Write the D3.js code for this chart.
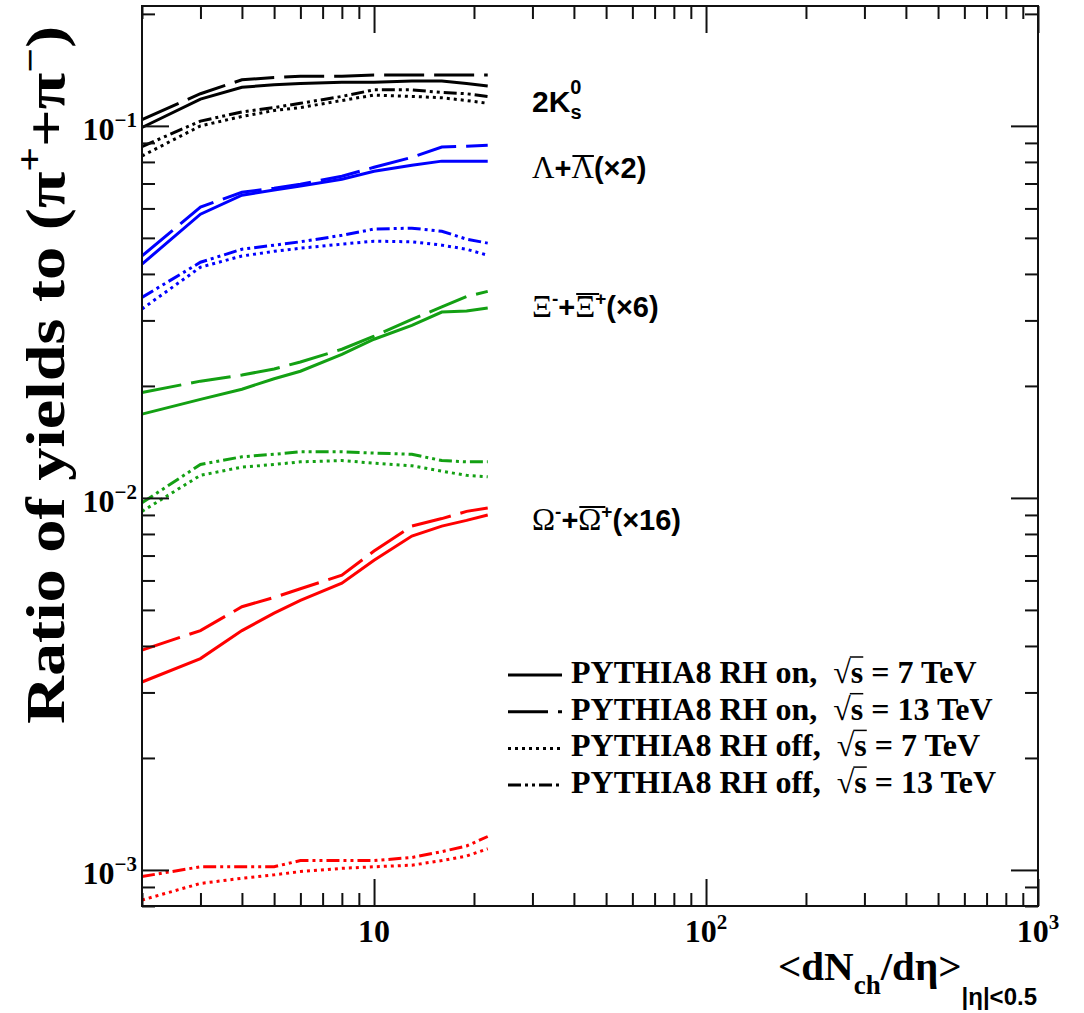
<!DOCTYPE html>
<html>
<head>
<meta charset="utf-8">
<script src="https://cdnjs.cloudflare.com/ajax/libs/d3/7.8.5/d3.min.js"></script>
<style>
  body { margin: 0; background: #fff; }
  svg text { white-space: pre; }
</style>
</head>
<body>
<svg id="chart" width="1084" height="1013"></svg>
<script>
// <dNch/deta> values where the curves were sampled
let multiplicity = [2, 3, 4, 5, 6, 8, 10, 13, 16, 19, 22];

// 2K0s
let kaonOn7 = [0.099, 0.118, 0.127, 0.129, 0.130, 0.131, 0.131, 0.132, 0.132, 0.130, 0.128];
let kaonOn13 = [0.104, 0.122, 0.133, 0.135, 0.136, 0.136, 0.137, 0.137, 0.137, 0.137, 0.137];
let kaonOff7 = [0.083, 0.100, 0.106, 0.110, 0.112, 0.117, 0.121, 0.120, 0.119, 0.117, 0.115];
let kaonOff13 = [0.088, 0.103, 0.109, 0.112, 0.115, 0.120, 0.125, 0.125, 0.123, 0.122, 0.120];

// Lambda (x2)
let lambdaOn7 = [0.0425, 0.0579, 0.0651, 0.0672, 0.0689, 0.0719, 0.0755, 0.0784, 0.0804, 0.0804, 0.0804];
let lambdaOn13 = [0.0447, 0.0605, 0.0663, 0.0680, 0.0697, 0.0732, 0.0774, 0.0823, 0.0877, 0.0882, 0.0887];
let lambdaOff7 = [0.0322, 0.0417, 0.0447, 0.0460, 0.0469, 0.0481, 0.0490, 0.0488, 0.0478, 0.0466, 0.0449];
let lambdaOff13 = [0.0346, 0.0430, 0.0466, 0.0478, 0.0488, 0.0508, 0.0528, 0.0531, 0.0521, 0.0496, 0.0484];

// Xi (x6)
let xiOn7 = [0.0168, 0.0184, 0.0196, 0.0209, 0.0219, 0.0243, 0.0267, 0.0291, 0.0316, 0.0318, 0.0324];
let xiOn13 = [0.0192, 0.0206, 0.0214, 0.0222, 0.0232, 0.0251, 0.0272, 0.0302, 0.0326, 0.0348, 0.0359];
let xiOff7 = [0.0092, 0.0115, 0.0121, 0.0123, 0.0125, 0.0126, 0.0124, 0.0122, 0.0118, 0.0115, 0.0114];
let xiOff13 = [0.0097, 0.0123, 0.0129, 0.0131, 0.0133, 0.0133, 0.0132, 0.0131, 0.0126, 0.0125, 0.0125];

// Omega (x16)
let omegaOn7 = [0.0032, 0.0037, 0.0044, 0.0049, 0.0053, 0.0059, 0.0068, 0.0079, 0.0084, 0.0087, 0.0090];
let omegaOn13 = [0.0039, 0.0044, 0.0051, 0.0054, 0.0057, 0.0062, 0.0072, 0.0084, 0.0088, 0.0092, 0.0094];
let omegaOff7 = [0.00083, 0.00092, 0.00095, 0.00097, 0.00099, 0.00101, 0.00102, 0.00103, 0.00106, 0.00109, 0.00114];
let omegaOff13 = [0.00096, 0.00102, 0.00102, 0.00102, 0.00106, 0.00106, 0.00106, 0.00108, 0.00112, 0.00116, 0.00123];

let legendLabels = [
  "PYTHIA8 RH on,  √s = 7 TeV",
  "PYTHIA8 RH on,  √s = 13 TeV",
  "PYTHIA8 RH off,  √s = 7 TeV",
  "PYTHIA8 RH off,  √s = 13 TeV"
];
let xMajor = [10, 100, 1000];
let xMajorExp = ["", "2", "3"];
let yMajor = [1e-3, 1e-2, 1e-1];
let yMajorExp = ["−3", "−2", "−1"];

let serif = "'Liberation Serif', 'Times New Roman', serif";
let sans = "'Liberation Sans', Arial, sans-serif";

let dashes = ["none", "40,10", "3,4", "13,4,3,4,3,4"];
let colors = { kaon: "#000000", lambda: "#0000ff", xi: "#13a013", omega: "#ff0000" };

let series = [
  [kaonOn7, colors.kaon, 0], [kaonOn13, colors.kaon, 1], [kaonOff7, colors.kaon, 2], [kaonOff13, colors.kaon, 3],
  [lambdaOn7, colors.lambda, 0], [lambdaOn13, colors.lambda, 1], [lambdaOff7, colors.lambda, 2], [lambdaOff13, colors.lambda, 3],
  [xiOn7, colors.xi, 0], [xiOn13, colors.xi, 1], [xiOff7, colors.xi, 2], [xiOff13, colors.xi, 3],
  [omegaOn7, colors.omega, 0], [omegaOn13, colors.omega, 1], [omegaOff7, colors.omega, 2], [omegaOff13, colors.omega, 3]
];

let svg = d3.select("#chart");
let plotLeft = 142, plotRight = 1038, plotTop = 6, plotBottom = 906;

let x = d3.scaleLog().domain([2, 1000]).range([plotLeft, plotRight]);
let y = d3.scaleLog().domain([8.0e-4, 0.21]).range([plotBottom, plotTop]);

// curves
let line = d3.line()
  .x((d) => x(d[0]))
  .y((d) => y(d[1]));

svg.append("g")
  .selectAll("path")
  .data(series)
  .enter()
  .append("path")
  .attr("d", (s) => line(multiplicity.map((m, i) => [m, s[0][i]])))
  .attr("fill", "none")
  .attr("stroke", (s) => s[1])
  .attr("stroke-width", 3)
  .attr("stroke-dasharray", (s) => dashes[s[2]]);

// ticks (ROOT style, pointing inwards on all four sides)
let xMinor = x.ticks().filter((v) => !xMajor.includes(v));
let yMinor = y.ticks().filter((v) => !yMajor.some((m) => Math.abs(m - v) < m * 1e-6));

let drawTicks = (axis, shift, values, size) => {
  let g = svg.append("g")
    .attr("transform", shift)
    .call(axis.tickValues(values).tickSize(-size).tickSizeOuter(0).tickFormat(""));
  g.select(".domain").remove();
  g.selectAll("line").attr("stroke", "#111").attr("stroke-width", 2);
};

drawTicks(d3.axisBottom(x), `translate(0,${plotBottom})`, xMinor, 13);
drawTicks(d3.axisBottom(x), `translate(0,${plotBottom})`, xMajor, 27);
drawTicks(d3.axisTop(x), `translate(0,${plotTop})`, xMinor, 13);
drawTicks(d3.axisTop(x), `translate(0,${plotTop})`, xMajor, 27);
drawTicks(d3.axisLeft(y), `translate(${plotLeft},0)`, yMinor, 13);
drawTicks(d3.axisLeft(y), `translate(${plotLeft},0)`, yMajor, 27);
drawTicks(d3.axisRight(y), `translate(${plotRight},0)`, yMinor, 13);
drawTicks(d3.axisRight(y), `translate(${plotRight},0)`, yMajor, 27);

svg.append("rect")
  .attr("x", plotLeft).attr("y", plotTop)
  .attr("width", plotRight - plotLeft).attr("height", plotBottom - plotTop)
  .attr("fill", "none").attr("stroke", "#111").attr("stroke-width", 2);

// tick labels
xMajor.forEach((v, i) => {
  let t = svg.append("text")
    .attr("x", x(v)).attr("y", 942)
    .attr("text-anchor", "middle")
    .attr("font-family", serif).attr("font-weight", "bold").attr("font-size", 32)
    .text("10");
  if (xMajorExp[i]) {
    t.append("tspan").attr("dy", -13).attr("font-size", 21).text(xMajorExp[i]);
  }
});

yMajor.forEach((v, i) => {
  let t = svg.append("text")
    .attr("x", 137).attr("y", y(v) + 14)
    .attr("text-anchor", "end")
    .attr("font-family", serif).attr("font-weight", "bold").attr("font-size", 32)
    .text("10");
  t.append("tspan").attr("dy", -13).attr("font-size", 21).text(yMajorExp[i]);
});

// axis titles
let yTitle = svg.append("text")
  .attr("transform", "translate(64,26) rotate(-90)")
  .attr("text-anchor", "end")
  .attr("font-family", serif).attr("font-weight", "bold").attr("font-size", 55)
  .attr("textLength", 698).attr("lengthAdjust", "spacingAndGlyphs")
  .text("Ratio of yields to (π");
yTitle.append("tspan").attr("dy", -22).attr("font-size", 36).text("+");
yTitle.append("tspan").attr("dy", 22).text("+π");
yTitle.append("tspan").attr("dy", -22).attr("font-size", 36).text("−");
yTitle.append("tspan").attr("dy", 22).text(")");

let xTitle = svg.append("text")
  .attr("x", 1037).attr("y", 980)
  .attr("text-anchor", "end")
  .attr("font-family", serif).attr("font-weight", "bold").attr("font-size", 41)
  .text("<dN");
xTitle.append("tspan").attr("dy", 14).attr("font-size", 27).text("ch");
xTitle.append("tspan").attr("dy", -14).text("/dη>");
xTitle.append("tspan").attr("dy", 25).attr("font-size", 24)
  .attr("font-family", sans).text("|η|<0.5");

// particle labels
let label = (px, py, parts) => {
  let t = svg.append("text").attr("x", px).attr("y", py).attr("font-size", 29);
  parts.forEach((p) => {
    let s = t.append("tspan").text(p.t)
      .attr("font-family", p.greek ? serif : sans)
      .attr("font-weight", p.greek ? "normal" : "bold");
    if (p.dy) s.attr("dy", p.dy);
    if (p.dx) s.attr("dx", p.dx);
    if (p.fs) s.attr("font-size", p.fs);
  });
  return t;
};

let bar = (t, idx, by, extend) => {
  let box = t.node().getExtentOfChar(idx);
  svg.append("line")
    .attr("x1", box.x + 1).attr("x2", box.x + box.width + (extend || 0))
    .attr("y1", by).attr("y2", by)
    .attr("stroke", "#000").attr("stroke-width", 2);
};

label(532, 112, [
  { t: "2K", fs: 30 },
  { t: "0", fs: 20, dy: -18 },
  { t: "s", fs: 20, dx: -11, dy: 25 }
]);

let lam = label(532, 178, [
  { t: "Λ", greek: true, fs: 31 },
  { t: "+" },
  { t: "Λ", greek: true, fs: 31 },
  { t: "(×2)" }
]);
bar(lam, 2, 156);

let xi = label(532, 317, [
  { t: "Ξ", greek: true, fs: 31 },
  { t: "-", fs: 19, dy: -12 },
  { t: "+", dy: 12 },
  { t: "Ξ", greek: true, fs: 31 },
  { t: "+", fs: 19, dy: -12 },
  { t: "(×6)", dy: 12 }
]);
bar(xi, 3, 294, 4);

let om = label(532, 530, [
  { t: "Ω", greek: true, fs: 31 },
  { t: "-", fs: 19, dy: -12 },
  { t: "+", dy: 12 },
  { t: "Ω", greek: true, fs: 31 },
  { t: "+", fs: 19, dy: -12 },
  { t: "(×16)", dy: 12 }
]);
bar(om, 3, 507, 4);

// legend
let legend = svg.append("g");
legendLabels.forEach((name, i) => {
  let ly = 675 + i * 36.7;
  legend.append("line")
    .attr("x1", 508).attr("x2", 562)
    .attr("y1", ly).attr("y2", ly)
    .attr("stroke", "#000").attr("stroke-width", 3)
    .attr("stroke-dasharray", dashes[i]);
  let t = legend.append("text")
    .attr("x", 571).attr("y", ly + 8)
    .attr("font-family", serif).attr("font-weight", "bold").attr("font-size", 32)
    .text(name);
  let k = name.indexOf("√");
  let root = t.node().getExtentOfChar(k);
  let s = t.node().getExtentOfChar(k + 1);
  legend.append("line")
    .attr("x1", root.x + root.width - 1).attr("x2", s.x + s.width)
    .attr("y1", ly - 18).attr("y2", ly - 18)
    .attr("stroke", "#000").attr("stroke-width", 1.5);
});
</script>
</body>
</html>
